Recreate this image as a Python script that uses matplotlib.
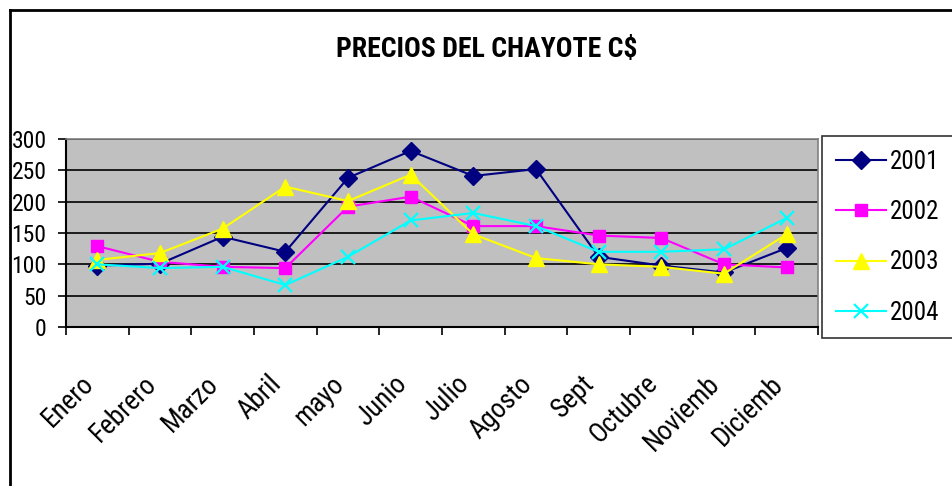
import matplotlib
matplotlib.use("Agg")
import matplotlib.pyplot as plt
import matplotlib.transforms as mtransforms
from matplotlib.lines import Line2D
import numpy as np

# Monthly chayote prices (C$) per year
months = ["Enero", "Febrero", "Marzo", "Abril", "mayo", "Junio", "Julio",
          "Agosto", "Sept", "Octubre", "Noviemb", "Diciemb"]
years = ["2001", "2002", "2003", "2004"]
p2001 = [98, 101, 144, 120, 238, 281, 241, 252, 112, 98, 87, 126]
p2002 = [129, 104, 96, 94, 192, 208, 161, 161, 146, 142, 100, 95]
p2003 = [107, 118, 157, 224, 201, 243, 148, 110, 100, 96, 85, 148]
p2004 = [100, 94, 96, 67, 112, 170, 182, 161, 120, 120, 124, 174]
yticks = [0, 50, 100, 150, 200, 250, 300]

W, H = 952, 486
fig = plt.figure(figsize=(W / 100, H / 100), dpi=100)
fig.patch.set_facecolor("white")

FONT = ["Roboto Condensed", "Liberation Sans", "DejaVu Sans"]

ax = fig.add_axes([66 / W, 1 - 327 / H, (818 - 66) / W, (327 - 139) / H])
ax.set_facecolor("#C0C0C0")

x = np.arange(len(months))
styles = [
    (p2001, "#000080", "D", 9.5, 1.0),
    (p2002, "#FF00FF", "s", 8.5, 1.0),
    (p2003, "#FFFF00", "^", 11, 1.0),
    (p2004, "#00FFFF", "x", 10, 1.6),
]
for (vals, col, mk, ms, mew), lab in zip(styles, years):
    ax.plot(x, vals, color=col, lw=1.5, marker=mk, markersize=ms,
            markeredgewidth=mew, markeredgecolor=col, markerfacecolor=col,
            label=lab, zorder=3)

ax.set_xlim(-0.5, len(months) - 0.5)
ax.set_ylim(0, 300)
ax.set_yticks(yticks)
ax.yaxis.grid(True, color="black", lw=1.2)
ax.set_axisbelow(True)

# Category labels at centres, tick marks on boundaries
ax.set_xticks(x)
ax.set_xticklabels(months, rotation=45, ha="right", va="center",
                   rotation_mode="anchor", fontsize=19.5, family=FONT)
ax.tick_params(axis="x", which="major", length=0, pad=38)
ax.set_xticks(np.arange(-0.5, len(months), 1.0), minor=True)
ax.tick_params(axis="x", which="minor", length=6, width=1.2, color="black",
               direction="out")
ax.tick_params(axis="y", length=6, width=1.2, pad=8, labelsize=17)
for t in ax.get_yticklabels():
    t.set_family(FONT)

# nudge the slanted month labels slightly left
shift = mtransforms.ScaledTranslation(-0.08, 0, fig.dpi_scale_trans)
for t in ax.get_xticklabels():
    t.set_transform(t.get_transform() + shift)

ax.spines["left"].set_color("black")
ax.spines["bottom"].set_color("black")
ax.spines["left"].set_linewidth(1.5)
ax.spines["bottom"].set_linewidth(1.5)
ax.spines["top"].set_color("#808080")
ax.spines["right"].set_color("#808080")
ax.spines["top"].set_linewidth(1.2)
ax.spines["right"].set_linewidth(1.2)

fig.text(487 / W, 1 - 49 / H, "PRECIOS DEL CHAYOTE C$", ha="center",
         va="center", fontsize=20, fontweight="bold", family=FONT)

leg = ax.legend(loc="upper left", bbox_to_anchor=(822 / W, 1 - 136 / H),
                bbox_transform=fig.transFigure, borderaxespad=0,
                prop={"family": FONT, "size": 18}, handlelength=2.0,
                handletextpad=0.15, labelspacing=1.05, borderpad=0.55,
                fancybox=False, frameon=True)
leg.get_frame().set_edgecolor("black")
leg.get_frame().set_linewidth(1.2)

# Chart-area border (top and left edges)
fig.add_artist(Line2D([10 / W, 10 / W], [0, 1 - 10 / H], color="black",
                      lw=2, transform=fig.transFigure))
fig.add_artist(Line2D([10 / W, 1], [1 - 10 / H, 1 - 10 / H], color="black",
                      lw=2, transform=fig.transFigure))

fig.savefig("out.png", dpi=100)
